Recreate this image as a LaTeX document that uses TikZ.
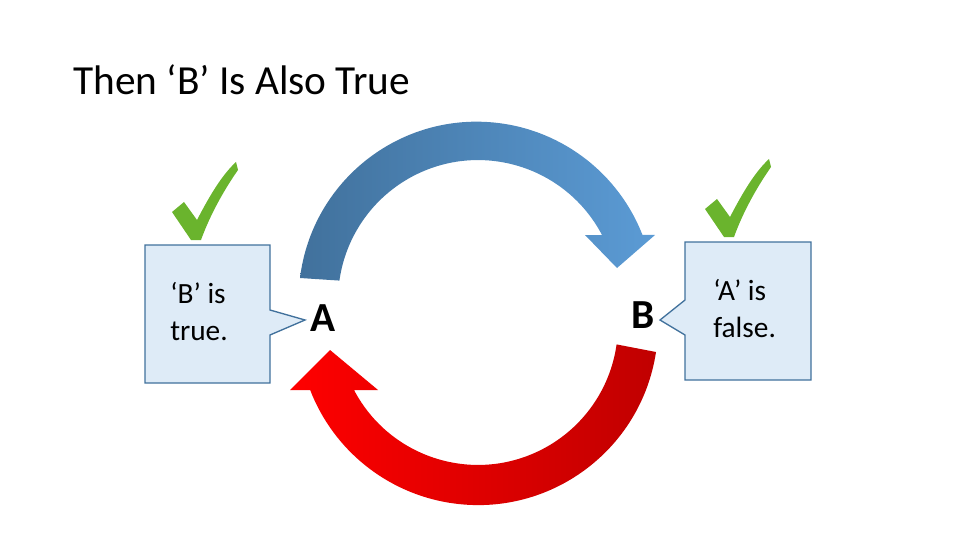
\documentclass[tikz,border=0pt]{standalone}
\usepackage{fontspec}
\setmainfont{Carlito}
\definecolor{cfill}{RGB}{222,235,247}
\definecolor{cdraw}{RGB}{65,113,156}
\definecolor{chk}{RGB}{106,180,45}
\begin{document}
\begin{tikzpicture}[x=0.75pt,y=0.75pt,
  callout/.style={fill=cfill, draw=cdraw, line width=1pt},
  check/.style={fill=chk, draw=none},
  letter/.style={font=\fontsize{31}{36}\selectfont\bfseries},
  ctext/.style={font=\fontsize{22}{28}\selectfont, align=left, anchor=north west, inner sep=0pt}]
\useasboundingbox (0,0) rectangle (960,540);
% title
\node[anchor=base west, inner sep=0pt, font=\fontsize{31}{36}\selectfont] (title) at (73,445) {Then ‘B’ Is Also True};
% blue arrow
\shade[left color={rgb,255:red,65;green,113;blue,156}, right color={rgb,255:red,91;green,155;blue,213}]
  (300,262) arc[start angle=173,end angle=21.4,radius=178] -- (655,305) -- (617,272) -- (585,305)
  -- (602,305) arc[start angle=27.7,end angle=172,radius=140] -- cycle;
% red arrow
\shade[left color={rgb,255:red,255;green,0;blue,0}, right color={rgb,255:red,192;green,0;blue,0}]
  (656,188) arc[start angle=-8.6,end angle=-158.8,radius=180] -- (290,150) -- (330,190) -- (378,150)
  -- (354,150) arc[start angle=-152.3,end angle=-8,radius=140] -- cycle;
% callouts
\draw[callout] (145,157) -- (270,157) -- (270,205) -- (305,220) -- (270,230) -- (270,295) -- (145,295) -- cycle;
\draw[callout] (685,298) -- (811,298) -- (811,160) -- (685,160) -- (685,205) -- (660,220) -- (685,240) -- cycle;
\node[ctext] (lt) at (170,258) {‘B’ is\\true.};
\node[ctext] (rt) at (713,261) {‘A’ is\\false.};
% letters
\node[letter] (A) at (323,222) {A};
\node[letter] (B) at (643,225) {B};
% checks
\foreach \dx/\dy in {0/0, 533/3}{
\fill[check, shift={(\dx,\dy)}] (172,328) -- (184,338) -- (197,320) .. controls (210,345) and (222,365) .. (236,378) -- (238,370) .. controls (224,350) and (210,325) .. (201,300) -- (191,300) -- cycle;
}
\end{tikzpicture}
\end{document}
